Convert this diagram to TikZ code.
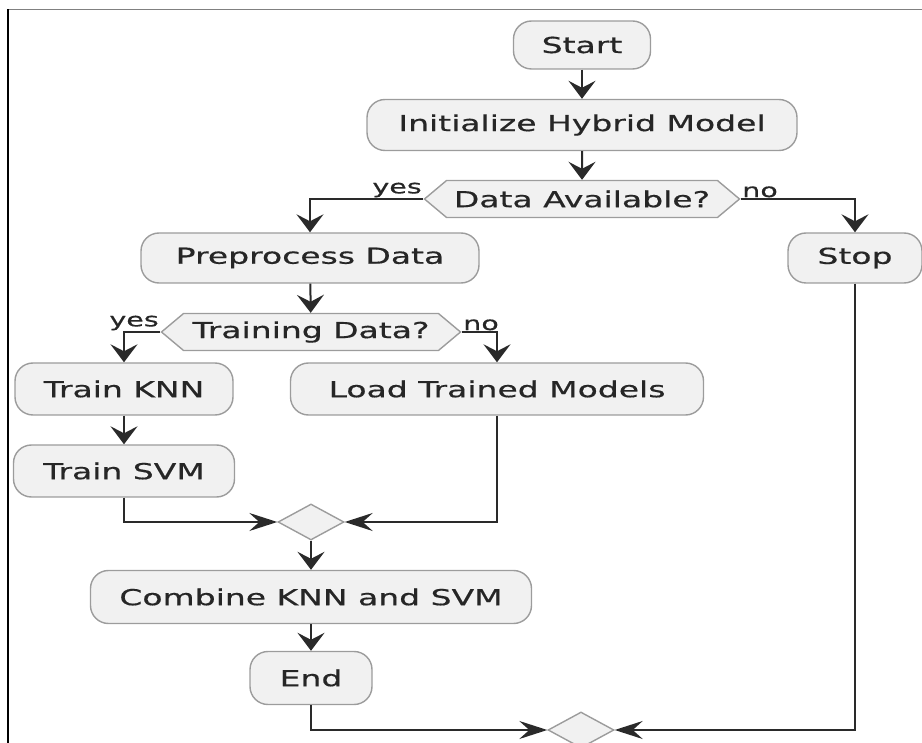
\documentclass[tikz,border=0pt]{standalone}
\usepackage{fontspec}
\newfontfamily\flowfont[FakeStretch=1.5,FakeBold=0.5]{DejaVu Sans}
\usetikzlibrary{arrows.meta,shapes.geometric,shapes.symbols}
\definecolor{boxfill}{HTML}{F1F1F1}
\definecolor{boxline}{HTML}{9C9C9C}
\definecolor{flowline}{HTML}{2A2A2A}

\begin{document}
\begin{tikzpicture}[
  x=1pt, y=-1pt,
  every node/.style={font=\flowfont\fontsize{22}{26}\selectfont, text=black!85},
  act/.style={draw=boxline, fill=boxfill, line width=1.4pt, rounded corners=18pt,
    inner sep=0pt},
  choice/.style={draw=boxline, fill=boxfill, line width=1.4pt, shape=signal,
    signal to=west and east, signal pointer angle=80, inner sep=0pt,
    minimum height=37pt},
  merge/.style={draw=boxline, fill=boxfill, line width=1.4pt, shape=diamond,
    inner sep=0pt, minimum width=66pt, minimum height=36pt},
  lbl/.style={font=\flowfont\fontsize{19}{22}\selectfont, inner sep=1.5pt},
  flow/.style={draw=flowline, line width=2pt},
  varr/.style={flow, -{Stealth[length=18pt,width=27pt,inset=7pt]}},
  harr/.style={flow, -{Stealth[length=28pt,width=18pt,inset=10pt]}}
]
\useasboundingbox (0,0) rectangle (922,743);
\clip (0,0) rectangle (922,743);

% frame
\draw[gray, line width=1.5pt] (8,9.5) -- (922,9.5);
\draw[black, line width=1.5pt] (8,743) -- (8,9.5);

\node[act, minimum width=137pt, minimum height=48pt] (start) at (582,45) {Start};
\node[act, minimum width=430pt, minimum height=51pt] (init) at (582,125) {Initialize Hybrid Model};
\node[choice, minimum width=315pt] (avail) at (582,199) {Data Available?};
\node[act, minimum width=338pt, minimum height=50pt] (prep) at (310,258) {Preprocess Data};
\node[act, minimum width=134pt, minimum height=50pt] (stop) at (855,258) {Stop};
\node[choice, minimum width=299pt] (train) at (311,332) {Training Data?};
\node[act, minimum width=218pt, minimum height=52pt] (knn) at (124,389) {Train KNN};
\node[act, minimum width=413pt, minimum height=52pt] (load) at (497,389) {Load Trained Models};
\node[act, minimum width=221pt, minimum height=52pt] (svm) at (124,471) {Train SVM};
\node[merge] (merge1) at (311,522) {};
\node[act, minimum width=441pt, minimum height=53pt] (comb) at (311,597) {Combine KNN and SVM};
\node[act, minimum width=122pt, minimum height=53pt] (finish) at (311,678) {End};
\node[merge] (merge2) at (581,730) {};

\node[lbl, anchor=south east] (yesA) at (avail.west) {yes};
\node[lbl, anchor=south west] (noA) at (avail.east) {no};
\node[lbl, anchor=south east] (yesB) at (train.west) {yes};
\node[lbl, anchor=south west] (noB) at (train.east) {no};

\draw[varr] (start) -- (init);
\draw[varr] (init) -- (avail);
\draw[varr] (avail.west) -| (prep.north);
\draw[varr] (avail.east) -| (stop.north);
\draw[varr] (prep) -- (train);
\draw[varr] (train.west) -| (knn.north);
\draw[varr] (train.east) -| (load.north);
\draw[varr] (knn) -- (svm);
\draw[harr] (svm.south) |- (merge1.west);
\draw[harr] (load.south) |- (merge1.east);
\draw[varr] (merge1) -- (comb);
\draw[varr] (comb) -- (finish);
\draw[harr] (finish.south) |- (merge2.west);
\draw[harr] (stop.south) |- (merge2.east);

\end{tikzpicture}
\end{document}
